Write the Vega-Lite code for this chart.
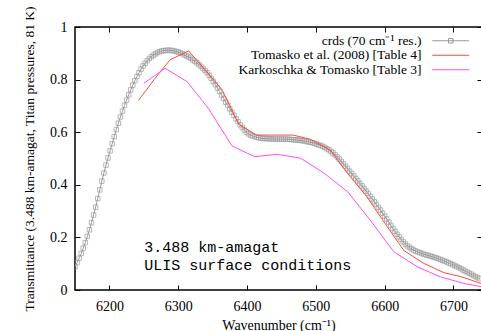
{
  "$schema": "https://vega.github.io/schema/vega-lite/v6.json",
  "width": 407,
  "height": 263,
  "autosize": {"type": "none"},
  "padding": {"left": 75, "top": 27, "right": 0, "bottom": 41},
  "background": "white",
  "config": {
    "view": {"stroke": "black", "strokeWidth": 1.5},
    "font": "Liberation Serif",
    "axis": {
      "grid": false,
      "domain": false,
      "tickColor": "black",
      "tickWidth": 1,
      "tickSize": -5,
      "labelFont": "Liberation Serif",
      "labelFontSize": 14,
      "labelColor": "black",
      "titleFont": "Liberation Serif",
      "titleFontWeight": "normal",
      "titleFontSize": 14,
      "titleColor": "black"
    }
  },
  "datasets": {
    "spectra": [
      {"series":"crds","wn":6150,"t":0.088},{"series":"crds","wn":6153,"t":0.104},{"series":"crds","wn":6156,"t":0.121},{"series":"crds","wn":6159,"t":0.139},{"series":"crds","wn":6162,"t":0.159},{"series":"crds","wn":6165,"t":0.180},{"series":"crds","wn":6168,"t":0.204},{"series":"crds","wn":6171,"t":0.229},{"series":"crds","wn":6174,"t":0.256},{"series":"crds","wn":6177,"t":0.285},
      {"series":"crds","wn":6180,"t":0.315},{"series":"crds","wn":6183,"t":0.348},{"series":"crds","wn":6186,"t":0.381},{"series":"crds","wn":6189,"t":0.414},{"series":"crds","wn":6192,"t":0.445},{"series":"crds","wn":6195,"t":0.475},{"series":"crds","wn":6198,"t":0.502},{"series":"crds","wn":6201,"t":0.529},{"series":"crds","wn":6204,"t":0.556},{"series":"crds","wn":6207,"t":0.583},
      {"series":"crds","wn":6210,"t":0.610},{"series":"crds","wn":6213,"t":0.634},{"series":"crds","wn":6216,"t":0.658},{"series":"crds","wn":6219,"t":0.680},{"series":"crds","wn":6222,"t":0.702},{"series":"crds","wn":6225,"t":0.722},{"series":"crds","wn":6228,"t":0.742},{"series":"crds","wn":6231,"t":0.761},{"series":"crds","wn":6234,"t":0.779},{"series":"crds","wn":6237,"t":0.796},
      {"series":"crds","wn":6240,"t":0.812},{"series":"crds","wn":6243,"t":0.826},{"series":"crds","wn":6246,"t":0.840},{"series":"crds","wn":6249,"t":0.852},{"series":"crds","wn":6252,"t":0.862},{"series":"crds","wn":6255,"t":0.872},{"series":"crds","wn":6258,"t":0.880},{"series":"crds","wn":6261,"t":0.887},{"series":"crds","wn":6264,"t":0.893},{"series":"crds","wn":6267,"t":0.898},
      {"series":"crds","wn":6270,"t":0.903},{"series":"crds","wn":6273,"t":0.906},{"series":"crds","wn":6276,"t":0.909},{"series":"crds","wn":6279,"t":0.910},{"series":"crds","wn":6282,"t":0.911},{"series":"crds","wn":6285,"t":0.912},{"series":"crds","wn":6288,"t":0.911},{"series":"crds","wn":6291,"t":0.911},{"series":"crds","wn":6294,"t":0.909},{"series":"crds","wn":6297,"t":0.907},
      {"series":"crds","wn":6300,"t":0.905},{"series":"crds","wn":6303,"t":0.902},{"series":"crds","wn":6306,"t":0.899},{"series":"crds","wn":6309,"t":0.894},{"series":"crds","wn":6312,"t":0.890},{"series":"crds","wn":6315,"t":0.886},{"series":"crds","wn":6318,"t":0.881},{"series":"crds","wn":6321,"t":0.875},{"series":"crds","wn":6324,"t":0.870},{"series":"crds","wn":6327,"t":0.864},
      {"series":"crds","wn":6330,"t":0.857},{"series":"crds","wn":6333,"t":0.850},{"series":"crds","wn":6336,"t":0.842},{"series":"crds","wn":6339,"t":0.835},{"series":"crds","wn":6342,"t":0.826},{"series":"crds","wn":6345,"t":0.816},{"series":"crds","wn":6348,"t":0.805},{"series":"crds","wn":6351,"t":0.793},{"series":"crds","wn":6354,"t":0.781},{"series":"crds","wn":6357,"t":0.768},
      {"series":"crds","wn":6360,"t":0.755},{"series":"crds","wn":6363,"t":0.741},{"series":"crds","wn":6366,"t":0.728},{"series":"crds","wn":6369,"t":0.714},{"series":"crds","wn":6372,"t":0.702},{"series":"crds","wn":6375,"t":0.689},{"series":"crds","wn":6378,"t":0.676},{"series":"crds","wn":6381,"t":0.664},{"series":"crds","wn":6384,"t":0.651},{"series":"crds","wn":6387,"t":0.640},
      {"series":"crds","wn":6390,"t":0.628},{"series":"crds","wn":6393,"t":0.618},{"series":"crds","wn":6396,"t":0.608},{"series":"crds","wn":6399,"t":0.600},{"series":"crds","wn":6402,"t":0.594},{"series":"crds","wn":6405,"t":0.589},{"series":"crds","wn":6408,"t":0.586},{"series":"crds","wn":6411,"t":0.583},{"series":"crds","wn":6414,"t":0.581},{"series":"crds","wn":6417,"t":0.579},
      {"series":"crds","wn":6420,"t":0.577},{"series":"crds","wn":6423,"t":0.576},{"series":"crds","wn":6426,"t":0.576},{"series":"crds","wn":6429,"t":0.575},{"series":"crds","wn":6432,"t":0.575},{"series":"crds","wn":6435,"t":0.575},{"series":"crds","wn":6438,"t":0.574},{"series":"crds","wn":6441,"t":0.574},{"series":"crds","wn":6444,"t":0.574},{"series":"crds","wn":6447,"t":0.574},
      {"series":"crds","wn":6450,"t":0.574},{"series":"crds","wn":6453,"t":0.574},{"series":"crds","wn":6456,"t":0.574},{"series":"crds","wn":6459,"t":0.573},{"series":"crds","wn":6462,"t":0.573},{"series":"crds","wn":6465,"t":0.572},{"series":"crds","wn":6468,"t":0.571},{"series":"crds","wn":6471,"t":0.571},{"series":"crds","wn":6474,"t":0.570},{"series":"crds","wn":6477,"t":0.569},
      {"series":"crds","wn":6480,"t":0.568},{"series":"crds","wn":6483,"t":0.567},{"series":"crds","wn":6486,"t":0.565},{"series":"crds","wn":6489,"t":0.563},{"series":"crds","wn":6492,"t":0.562},{"series":"crds","wn":6495,"t":0.560},{"series":"crds","wn":6498,"t":0.558},{"series":"crds","wn":6501,"t":0.555},{"series":"crds","wn":6504,"t":0.552},{"series":"crds","wn":6507,"t":0.549},
      {"series":"crds","wn":6510,"t":0.546},{"series":"crds","wn":6513,"t":0.542},{"series":"crds","wn":6516,"t":0.537},{"series":"crds","wn":6519,"t":0.533},{"series":"crds","wn":6522,"t":0.527},{"series":"crds","wn":6525,"t":0.521},{"series":"crds","wn":6528,"t":0.514},{"series":"crds","wn":6531,"t":0.506},{"series":"crds","wn":6534,"t":0.498},{"series":"crds","wn":6537,"t":0.489},
      {"series":"crds","wn":6540,"t":0.480},{"series":"crds","wn":6543,"t":0.471},{"series":"crds","wn":6546,"t":0.462},{"series":"crds","wn":6549,"t":0.452},{"series":"crds","wn":6552,"t":0.443},{"series":"crds","wn":6555,"t":0.434},{"series":"crds","wn":6558,"t":0.424},{"series":"crds","wn":6561,"t":0.415},{"series":"crds","wn":6564,"t":0.405},{"series":"crds","wn":6567,"t":0.396},
      {"series":"crds","wn":6570,"t":0.386},{"series":"crds","wn":6573,"t":0.376},{"series":"crds","wn":6576,"t":0.367},{"series":"crds","wn":6579,"t":0.356},{"series":"crds","wn":6582,"t":0.346},{"series":"crds","wn":6585,"t":0.336},{"series":"crds","wn":6588,"t":0.325},{"series":"crds","wn":6591,"t":0.314},{"series":"crds","wn":6594,"t":0.304},{"series":"crds","wn":6597,"t":0.292},
      {"series":"crds","wn":6600,"t":0.281},{"series":"crds","wn":6603,"t":0.270},{"series":"crds","wn":6606,"t":0.258},{"series":"crds","wn":6609,"t":0.246},{"series":"crds","wn":6612,"t":0.234},{"series":"crds","wn":6615,"t":0.223},{"series":"crds","wn":6618,"t":0.212},{"series":"crds","wn":6621,"t":0.202},{"series":"crds","wn":6624,"t":0.192},{"series":"crds","wn":6627,"t":0.183},
      {"series":"crds","wn":6630,"t":0.175},{"series":"crds","wn":6633,"t":0.168},{"series":"crds","wn":6636,"t":0.162},{"series":"crds","wn":6639,"t":0.157},{"series":"crds","wn":6642,"t":0.152},{"series":"crds","wn":6645,"t":0.148},{"series":"crds","wn":6648,"t":0.145},{"series":"crds","wn":6651,"t":0.142},{"series":"crds","wn":6654,"t":0.139},{"series":"crds","wn":6657,"t":0.136},
      {"series":"crds","wn":6660,"t":0.134},{"series":"crds","wn":6663,"t":0.132},{"series":"crds","wn":6666,"t":0.129},{"series":"crds","wn":6669,"t":0.127},{"series":"crds","wn":6672,"t":0.124},{"series":"crds","wn":6675,"t":0.122},{"series":"crds","wn":6678,"t":0.119},{"series":"crds","wn":6681,"t":0.116},{"series":"crds","wn":6684,"t":0.113},{"series":"crds","wn":6687,"t":0.110},
      {"series":"crds","wn":6690,"t":0.107},{"series":"crds","wn":6693,"t":0.103},{"series":"crds","wn":6696,"t":0.100},{"series":"crds","wn":6699,"t":0.096},{"series":"crds","wn":6702,"t":0.093},{"series":"crds","wn":6705,"t":0.089},{"series":"crds","wn":6708,"t":0.085},{"series":"crds","wn":6711,"t":0.081},{"series":"crds","wn":6714,"t":0.076},{"series":"crds","wn":6717,"t":0.072},
      {"series":"crds","wn":6720,"t":0.068},{"series":"crds","wn":6723,"t":0.064},{"series":"crds","wn":6726,"t":0.060},{"series":"crds","wn":6729,"t":0.055},{"series":"crds","wn":6732,"t":0.051},{"series":"crds","wn":6735,"t":0.047},{"series":"crds","wn":6738,"t":0.043},
      {"series":"tom","wn":6242,"t":0.72},{"series":"tom","wn":6265,"t":0.80},{"series":"tom","wn":6288,"t":0.875},{"series":"tom","wn":6315,"t":0.909},{"series":"tom","wn":6340,"t":0.835},{"series":"tom","wn":6364,"t":0.76},{"series":"tom","wn":6388,"t":0.63},{"series":"tom","wn":6414,"t":0.589},{"series":"tom","wn":6440,"t":0.589},{"series":"tom","wn":6467,"t":0.589},
      {"series":"tom","wn":6492,"t":0.573},{"series":"tom","wn":6521,"t":0.532},{"series":"tom","wn":6546,"t":0.444},{"series":"tom","wn":6574,"t":0.355},{"series":"tom","wn":6604,"t":0.24},{"series":"tom","wn":6628,"t":0.15},{"series":"tom","wn":6657,"t":0.101},{"series":"tom","wn":6686,"t":0.066},{"series":"tom","wn":6712,"t":0.05},{"series":"tom","wn":6740,"t":0.025},
      {"series":"kt","wn":6250,"t":0.786},{"series":"kt","wn":6281,"t":0.843},{"series":"kt","wn":6313,"t":0.792},{"series":"kt","wn":6344,"t":0.69},{"series":"kt","wn":6378,"t":0.548},{"series":"kt","wn":6411,"t":0.507},{"series":"kt","wn":6444,"t":0.516},{"series":"kt","wn":6478,"t":0.501},{"series":"kt","wn":6512,"t":0.444},{"series":"kt","wn":6546,"t":0.374},
      {"series":"kt","wn":6579,"t":0.266},{"series":"kt","wn":6613,"t":0.146},{"series":"kt","wn":6647,"t":0.089},{"series":"kt","wn":6681,"t":0.05},{"series":"kt","wn":6715,"t":0.025},{"series":"kt","wn":6740,"t":0.013}
    ]
  },
  "layer": [
    {
      "data": {"name": "spectra"},
      "transform": [{"filter": "datum.series == 'crds'"}],
      "mark": {"type": "point", "shape": "square", "filled": false, "size": 20, "strokeWidth": 1, "color": "#9a9a9a", "clip": true},
      "encoding": {
        "x": {"field": "wn", "type": "quantitative", "scale": {"domain": [6150, 6741.5], "nice": false, "zero": false}, "axis": null},
        "y": {"field": "t", "type": "quantitative", "scale": {"domain": [0, 1], "nice": false}, "axis": null}
      }
    },
    {
      "data": {"name": "spectra"},
      "mark": {"type": "line", "strokeWidth": 1, "clip": true},
      "encoding": {
        "x": {"field": "wn", "type": "quantitative", "axis": {"orient": "bottom", "values": [6200, 6300, 6400, 6500, 6600, 6700], "format": "d", "labelPadding": 14, "title": "Wavenumber (cm⁻¹)", "titlePadding": 5}},
        "y": {"field": "t", "type": "quantitative", "axis": {"orient": "left", "values": [0, 0.2, 0.4, 0.6, 0.8, 1], "format": "~g", "labelPadding": 13, "title": "Transmittance (3.488 km-amagat, Titan pressures, 81 K)", "titleFontSize": 13.5, "titlePadding": 13}},
        "color": {
          "field": "series",
          "type": "nominal",
          "scale": {"domain": ["crds", "tom", "kt"], "range": ["#9a9a9a", "#ff4a3a", "#ff4cff"]},
          "legend": {
            "orient": "none",
            "legendX": 369,
            "legendY": 7,
            "title": null,
            "padding": 0,
            "symbolType": "stroke",
            "symbolSize": 85,
            "symbolStrokeWidth": 1,
            "labelFont": "Liberation Serif",
            "labelFontSize": 13.5,
            "labelColor": "black",
            "labelAlign": "right",
            "labelOffset": -36,
            "labelLimit": 400,
            "rowPadding": -0.5,
            "labelExpr": "datum.value == 'crds' ? 'crds (70 cm⁻¹ res.)' : datum.value == 'tom' ? 'Tomasko et al. (2008) [Table 4]' : 'Karkoschka & Tomasko [Table 3]'",
            "encode": {"symbols": {"update": {"shape": {"signal": "datum.value == 'crds' ? 'M-4,0H4M-0.5,-0.5H0.5V0.5H-0.5Z' : 'M-4,0H4'"}, "fill": {"value": "transparent"}}}}
          }
        }
      }
    },
    {
      "data": {"name": "spectra"},
      "mark": {"type": "point", "opacity": 0},
      "encoding": {
        "x": {"field": "wn", "type": "quantitative", "axis": {"orient": "top", "values": [6200, 6300, 6400, 6500, 6600, 6700], "labels": false, "title": null}},
        "y": {"field": "t", "type": "quantitative", "axis": {"orient": "right", "values": [0, 0.2, 0.4, 0.6, 0.8, 1], "labels": false, "title": null}}
      }
    },
    {
      "data": {"values": [{"note": "annotation"}]},
      "mark": {"type": "text", "font": "Liberation Mono", "fontSize": 15, "align": "left", "baseline": "alphabetic", "lineHeight": 18, "color": "black"},
      "encoding": {
        "x": {"datum": 6250.5, "type": "quantitative", "axis": null},
        "y": {"datum": 0.1445, "type": "quantitative", "axis": null},
        "text": {"value": ["3.488 km-amagat", "ULIS surface conditions"]}
      }
    }
  ],
  "resolve": {"axis": {"x": "independent", "y": "independent"}}
}
